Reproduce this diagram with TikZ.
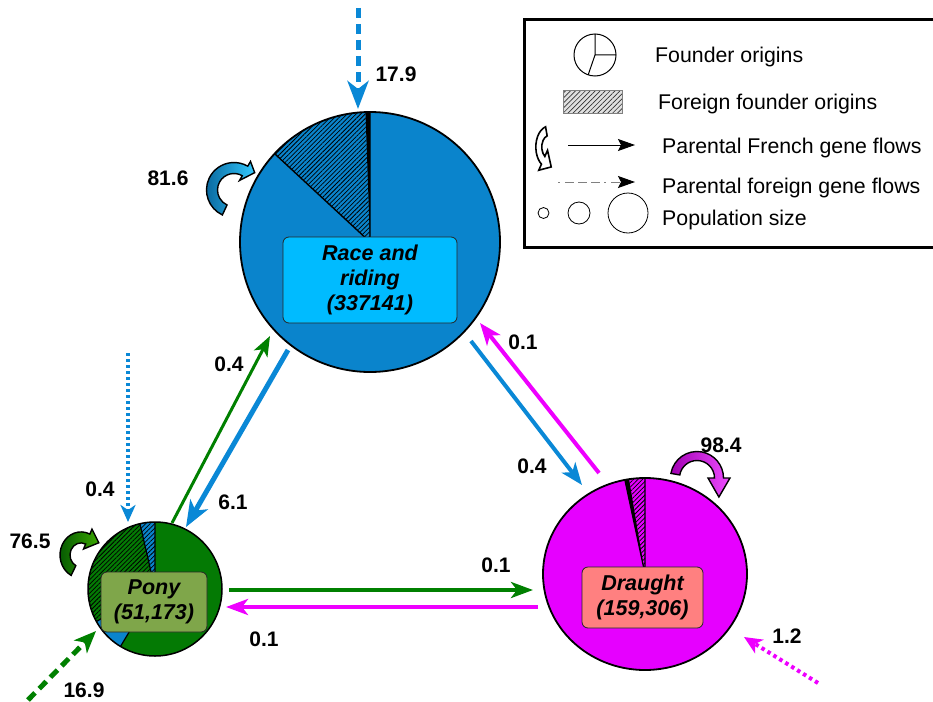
\documentclass[tikz,border=0pt]{standalone}
\usepackage{fontspec}
\setmainfont{Liberation Sans}
\usetikzlibrary{arrows.meta,patterns.meta,calc}
\definecolor{rblue}{HTML}{0A84CC}
\definecolor{rbox}{HTML}{00BBFF}
\definecolor{pgreen}{HTML}{047A04}
\definecolor{pbox}{HTML}{7FA64A}
\definecolor{dmag}{HTML}{E600FF}
\definecolor{dbox}{HTML}{FF8080}
\definecolor{ablue}{HTML}{0A88D6}
\definecolor{agreen}{HTML}{008000}
\definecolor{amag}{HTML}{EE00FF}
\newcommand{\curvedflow}[8]{%
 \pgfmathsetmacro\cwRo{#2+#3/2}\pgfmathsetmacro\cwRi{#2-#3/2}%
 \pgfmathsetmacro\cwHo{#2+#4}\pgfmathsetmacro\cwHi{#2-#4}%
 \path[#1] (#5:\cwRo) arc[start angle=#5, end angle=#6, radius=\cwRo] -- (#6:\cwHo) -- (#7:#8) -- (#6:\cwHi) -- (#6:\cwRi) arc[start angle=#6, end angle=#5, radius=\cwRi] -- cycle;}
\tikzset{
 lbl/.style={font=\fontsize{21}{25}\selectfont\bfseries, inner sep=0pt},
 legtxt/.style={font=\fontsize{21.3}{25}\selectfont, anchor=base west, inner sep=0pt},
 popbox/.style={rounded corners=6pt, draw=black!85, line width=0.8pt, align=center,
   font=\fontsize{21.5}{25}\selectfont\bfseries\itshape, inner sep=0pt},
 hatch/.style={pattern={Lines[angle=45,distance=3.2pt,line width=0.75pt]}, pattern color=black},
 wedgeline/.style={line width=1.4pt},
 rim/.style={line width=1.8pt},
 loopout/.style={draw=black, line width=1.4pt},
}
\begin{document}
\begin{tikzpicture}[x=1pt,y=-1pt]
\useasboundingbox (0,0) rectangle (933,701);
\fill[white] (0,0) rectangle (933,701);

% ---------- Race and riding ----------
\coordinate (race) at (370,242);
\fill[rblue] (race) circle[radius=130];
\path[hatch] (race) -- ++(222.8:130) arc[start angle=222.8,end angle=268,radius=130] -- cycle;
\fill[black] (race) -- ++(268:130) arc[start angle=268,end angle=270,radius=130] -- cycle;
\draw[wedgeline] (race) -- ++(222.8:130) (race) -- ++(270:130);
\draw[rim] (race) circle[radius=130];
\node[popbox, fill=rbox, minimum width=174pt, minimum height=86pt] (racebox) at (370,280) {Race and\\riding\\(337141)};

% ---------- Pony ----------
\coordinate (pony) at (155,589);
\fill[pgreen] (pony) circle[radius=67];
\fill[rblue] (pony) -- ++(121:67) arc[start angle=121,end angle=151,radius=67] -- cycle;
\fill[rblue] (pony) -- ++(257:67) arc[start angle=257,end angle=270,radius=67] -- cycle;
\path[hatch] (pony) -- ++(151:67) arc[start angle=151,end angle=270,radius=67] -- cycle;
\draw[line width=1.2pt] (pony) -- ++(121:67) (pony) -- ++(151:67) (pony) -- ++(257:67) (pony) -- ++(270:67);
\draw[line width=1.5pt] (pony) circle[radius=67];
\node[popbox, fill=pbox, minimum width=106pt, minimum height=60pt] (ponybox) at (154,602) {Pony\\(51,173)};

% ---------- Draught ----------
\coordinate (draught) at (645,574);
\fill[dmag] (draught) ellipse[x radius=102, y radius=96];
\path[hatch] (draught) -- ++(261:102 and 96) arc[start angle=261,end angle=270,x radius=102,y radius=96] -- cycle;
\fill[black] (draught) -- ++(258.6:102 and 96) arc[start angle=258.6,end angle=261,x radius=102,y radius=96] -- cycle;
\draw[line width=1.2pt] (draught) -- ++(258.6:102 and 96) (draught) -- ++(270:102 and 96);
\draw[rim] (draught) ellipse[x radius=102, y radius=96];
\node[popbox, fill=dbox, minimum width=121pt, minimum height=61pt] (draughtbox) at (642.5,597.5) {Draught\\(159,306)};

% ---------- self loops ----------
\begin{scope}[shift={(234,190)}]
 \curvedflow{loopout, left color=black!25!rblue, right color=rbox!80!white}{22}{11}{11}{115}{300}{320}{27}
\end{scope}
\begin{scope}[shift={(81,555)}, yscale=1.1]
 \curvedflow{loopout, left color=black!30!pgreen, right color=agreen!70!lime}{16}{10}{10}{118}{295}{328}{21}
\end{scope}
\begin{scope}[shift={(697,478)}]
 \curvedflow{loopout, left color=black!30!dmag, right color=dmag!70!white}{22}{9}{11}{190}{360}{41}{29}
\end{scope}

% ---------- flows between populations ----------
\coordinate (pr1) at (172,523); \coordinate (pr2) at (270,336);
\draw[agreen, line width=3pt, -{Stealth[length=20pt,width=15pt,inset=5pt]}] (pr1) -- (pr2);
\coordinate (rp1) at (288,350); \coordinate (rp2) at (186,527);
\draw[ablue, line width=5pt, -{Stealth[length=26pt,width=20pt,inset=7pt]}] (rp1) -- (rp2);
\coordinate (rd1) at (471,341); \coordinate (rd2) at (582,485);
\draw[ablue, line width=4pt, -{Stealth[length=22pt,width=17pt,inset=6pt]}] (rd1) -- (rd2);
\coordinate (dr1) at (599,473); \coordinate (dr2) at (480,323);
\draw[amag, line width=4pt, -{Stealth[length=22pt,width=17pt,inset=6pt]}] (dr1) -- (dr2);
\coordinate (pd1) at (229,590); \coordinate (pd2) at (533,590);
\draw[agreen, line width=4pt, -{Stealth[length=22pt,width=16pt,inset=6pt]}] (pd1) -- (pd2);
\coordinate (dp1) at (538,607); \coordinate (dp2) at (226,607);
\draw[amag, line width=4pt, -{Stealth[length=22pt,width=16pt,inset=6pt]}] (dp1) -- (dp2);

% ---------- foreign flows ----------
\coordinate (fr1) at (358,8); \coordinate (fr2) at (358,109);
\draw[ablue, line width=5pt, dash pattern=on 10pt off 6pt, -{Stealth[length=28pt,width=21pt,inset=8pt]}] (fr1) -- (fr2);
\coordinate (fp1) at (128,353); \coordinate (fp2) at (128,522);
\draw[ablue, line width=4pt, dash pattern=on 3pt off 3pt, -{Stealth[length=17pt,width=15pt,inset=5pt]}] (fp1) -- (fp2);
\coordinate (fg1) at (28,700); \coordinate (fg2) at (96,631);
\draw[agreen, line width=5pt, dash pattern=on 10pt off 6pt, -{Stealth[length=22pt,width=18pt,inset=6pt]}] (fg1) -- (fg2);
\coordinate (fd1) at (818,683); \coordinate (fd2) at (744,637);
\draw[amag, line width=4pt, dash pattern=on 3.5pt off 3.5pt, -{Stealth[length=18pt,width=16pt,inset=5pt]}] (fd1) -- (fd2);

% ---------- labels ----------
\node[lbl] (l179) at (396,74) {17.9};
\node[lbl] (l816) at (168,178) {81.6};
\node[lbl] (l04a) at (229,364) {0.4};
\node[lbl] (l61) at (233,502) {6.1};
\node[lbl] (l04b) at (100,489) {0.4};
\node[lbl] (l765) at (30,541) {76.5};
\node[lbl] (l169) at (84,690) {16.9};
\node[lbl] (l01a) at (264,639) {0.1};
\node[lbl] (l01b) at (496,565) {0.1};
\node[lbl] (l04c) at (532,466) {0.4};
\node[lbl] (l01c) at (523,342) {0.1};
\node[lbl] (l984) at (721,445) {98.4};
\node[lbl] (l12) at (787,636) {1.2};

% ---------- legend ----------
\draw[line width=3pt] (524,20) rectangle (942,247);
\coordinate (lpie) at (595,55);
\draw[line width=1pt] (lpie) circle[radius=21];
\draw[line width=1pt] (lpie) -- ++(270:21) (lpie) -- ++(0:21) (lpie) -- ++(109:21);
\node[legtxt] (t1) at (655,63) {Founder origins};
\fill[black!12] (563,90) rectangle (622,113);
\path[pattern={Lines[angle=45,distance=3.5pt,line width=0.7pt]}, pattern color=black!80] (563,90) rectangle (622,113);
\draw[gray, line width=0.8pt] (563,90) rectangle (622,113);
\node[legtxt] (t2) at (658,109) {Foreign founder origins};
\begin{scope}[shift={(549,147)}, xscale=0.85, yscale=1.35]
 \curvedflow{draw=black, line width=1.6pt, fill=white}{12}{7}{9}{255}{125}{80}{15}
\end{scope}
\coordinate (la1) at (568,145); \coordinate (la2) at (635,145);
\draw[line width=1pt, -{Stealth[length=17pt,width=12pt,inset=3pt]}] (la1) -- (la2);
\node[legtxt] (t3) at (662,153) {Parental French gene flows};
\coordinate (lb1) at (558,182); \coordinate (lb2) at (635,182);
\draw[gray, line width=1pt, dash pattern=on 2pt off 5pt on 9pt off 4pt on 9pt off 4pt on 9pt off 4pt, -{Stealth[color=black,fill=black,length=17pt,width=12pt,inset=3pt]}] (lb1) -- (lb2);
\node[legtxt] (t4) at (662,193) {Parental foreign gene flows};
\draw[line width=0.8pt] (543.5,213) circle[radius=5.5];
\draw[line width=0.8pt] (579,213) circle[radius=11];
\draw[line width=0.8pt] (628,213) circle[radius=20];
\node[legtxt] (t5) at (662,225) {Population size};
\end{tikzpicture}
\end{document}
